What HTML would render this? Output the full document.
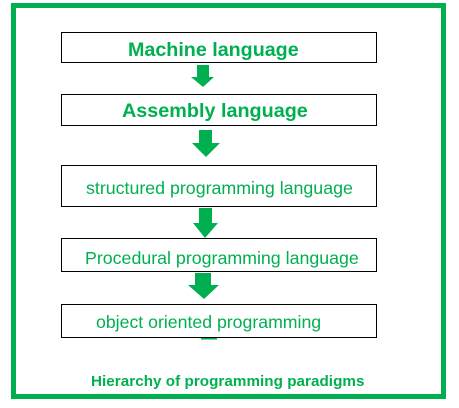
<!DOCTYPE html>
<html><head><style>
body{margin:0;width:459px;height:408px;background:#fff;position:relative;overflow:hidden;font-family:"Liberation Sans",Arial,sans-serif}
.a{position:absolute}
.frame{left:11px;top:3px;width:425px;height:386px;border:5px solid #00b050}
.box{position:absolute;left:61px;width:314px;border:1px solid #000;color:#00b050;white-space:nowrap}
.box span{position:absolute;line-height:1}
.t{color:#00b050;line-height:1}
</style></head><body>
<div class="a frame"></div>
<div class="box" style="top:32px;height:29px"><span style="left:66px;top:8px;font-size:19.7px;font-weight:bold">Machine language</span></div>
<div class="box" style="top:94px;height:30px"><span style="left:60px;top:7px;font-size:19.8px;font-weight:bold">Assembly language</span></div>
<div class="box" style="top:165px;height:40px"><span style="left:24px;top:14px;font-size:17.8px">structured programming language</span></div>
<div class="box" style="top:238px;height:32px"><span style="left:23px;top:11px;font-size:17.8px">Procedural programming language</span></div>
<div class="box" style="top:304px;height:32px"><span style="left:34px;top:9px;font-size:17.7px">object oriented programming</span></div>
<svg class="a" style="left:0;top:0" width="459" height="408">
<g fill="#00b050">
<polygon points="197,65 209,65 209,77 214,77 203,87 191,77 197,77"/>
<polygon points="199,130 212,130 212,143 220,143 206,157 192,143 199,143"/>
<polygon points="199,208 212,208 212,223 218,223 205,238 193,223 199,223"/>
<polygon points="195,273 211,273 211,285 219,285 204,299 188,285 195,285"/>
<rect x="201" y="338" width="16" height="1.5"/>
</g>
</svg>
<div class="a t" style="left:91px;top:374px;font-size:15.2px;font-weight:bold;letter-spacing:0.05px">Hierarchy of programming paradigms</div>
</body></html>
